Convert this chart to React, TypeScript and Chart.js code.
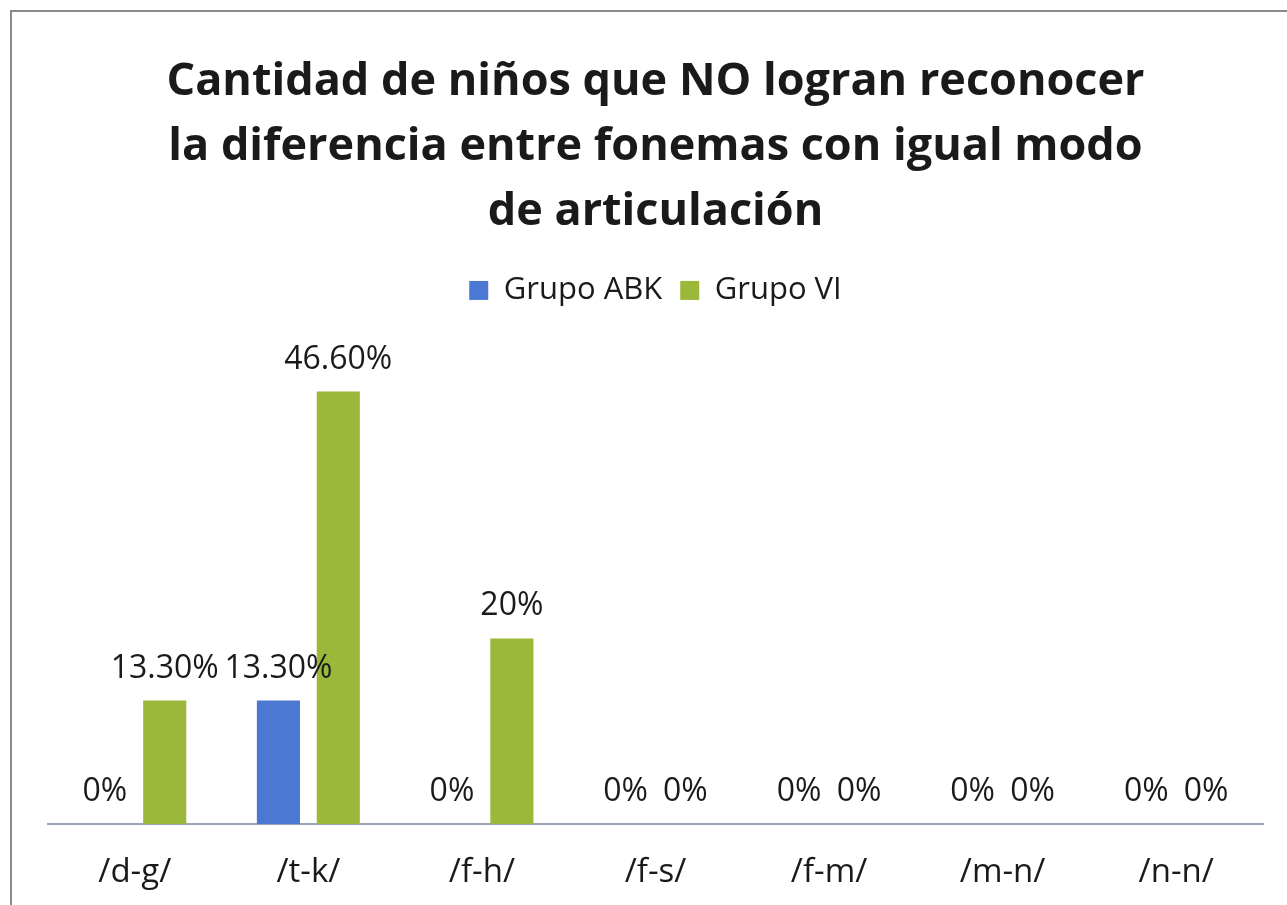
import React, { useEffect, useRef } from "react";
import { Chart, registerables } from "chart.js";

Chart.register(...registerables);

const categories = ["/d-g/", "/t-k/", "/f-h/", "/f-s/", "/f-m/", "/m-n/", "/n-n/"];
const grupoABK = [0, 13.3, 0, 0, 0, 0, 0];
const grupoVI = [13.3, 46.6, 20, 0, 0, 0, 0];
const seriesNames = ["Grupo ABK", "Grupo VI"];
const titleLines = [
  "Cantidad de niños que NO logran reconocer",
  "la diferencia entre fonemas con igual modo",
  "de articulación",
];

const FONT = "'Open Sans', 'Noto Sans', sans-serif";
const PX_PER_PERCENT = 9.28;

const fmt = (v: number) => (Number.isInteger(v) ? `${v}%` : `${v.toFixed(2)}%`);

const valueLabels = {
  id: "valueLabels",
  afterDatasetsDraw(chart: any) {
    const ctx = chart.ctx;
    ctx.save();
    ctx.font = `32px ${FONT}`;
    ctx.fillStyle = "#1a1a1a";
    ctx.textAlign = "center";
    ctx.textBaseline = "alphabetic";
    chart.data.datasets.forEach((ds: any, di: number) => {
      const meta = chart.getDatasetMeta(di);
      meta.data.forEach((bar: any, i: number) => {
        ctx.fillText(fmt(ds.data[i]), bar.x, bar.y - 23);
      });
    });
    ctx.restore();
  },
};

export default function App() {
  const ref = useRef<HTMLCanvasElement>(null);
  useEffect(() => {
    document.body.style.margin = "0";
    const chart = new Chart(ref.current!, {
      type: "bar",
      data: {
        labels: categories,
        datasets: [
          {
            label: seriesNames[0],
            data: grupoABK,
            backgroundColor: "#4a78d3",
            categoryPercentage: 0.69,
            barPercentage: 0.72,
          },
          {
            label: seriesNames[1],
            data: grupoVI,
            backgroundColor: "#9bb83a",
            categoryPercentage: 0.69,
            barPercentage: 0.72,
          },
        ],
      },
      options: {
        responsive: false,
        animation: false,
        layout: { padding: { left: 48, right: 24, top: 0, bottom: 0 } },
        plugins: {
          title: {
            display: true,
            text: titleLines,
            color: "#1a1a1a",
            font: { family: FONT, size: 45, weight: "bold", lineHeight: 1.444 },
            padding: { top: 50, bottom: 12 },
          },
          legend: {
            display: true,
            labels: {
              color: "#1a1a1a",
              font: { family: FONT, size: 31 },
              boxWidth: 19,
              boxHeight: 19,
              padding: 18,
            },
          },
          tooltip: { enabled: false },
        },
        scales: {
          x: {
            grid: { display: false },
            border: { display: true, color: "#9aa6b6", width: 2 },
            ticks: { color: "#1a1a1a", font: { family: FONT, size: 33 }, padding: 21 },
            afterFit: (scale: any) => {
              scale.height = 81;
            },
          },
          y: {
            display: false,
            min: 0,
            max: 50,
          },
        },
      },
      plugins: [valueLabels],
    });
    const ca = chart.chartArea;
    (chart.options.scales as any).y.max = (ca.bottom - ca.top) / PX_PER_PERCENT;
    chart.update();
    return () => chart.destroy();
  }, []);
  return (
    <div style={{ position: "relative", width: 1287, height: 905, background: "#fff", overflow: "hidden" }}>
      <div
        style={{
          position: "absolute",
          left: 10,
          top: 10,
          width: 1300,
          height: 920,
          borderLeft: "2px solid #8a8a8a",
          borderTop: "2px solid #8a8a8a",
        }}
      />
      <canvas ref={ref} width={1287} height={905} style={{ position: "absolute", left: 0, top: 0 }} />
    </div>
  );
}
